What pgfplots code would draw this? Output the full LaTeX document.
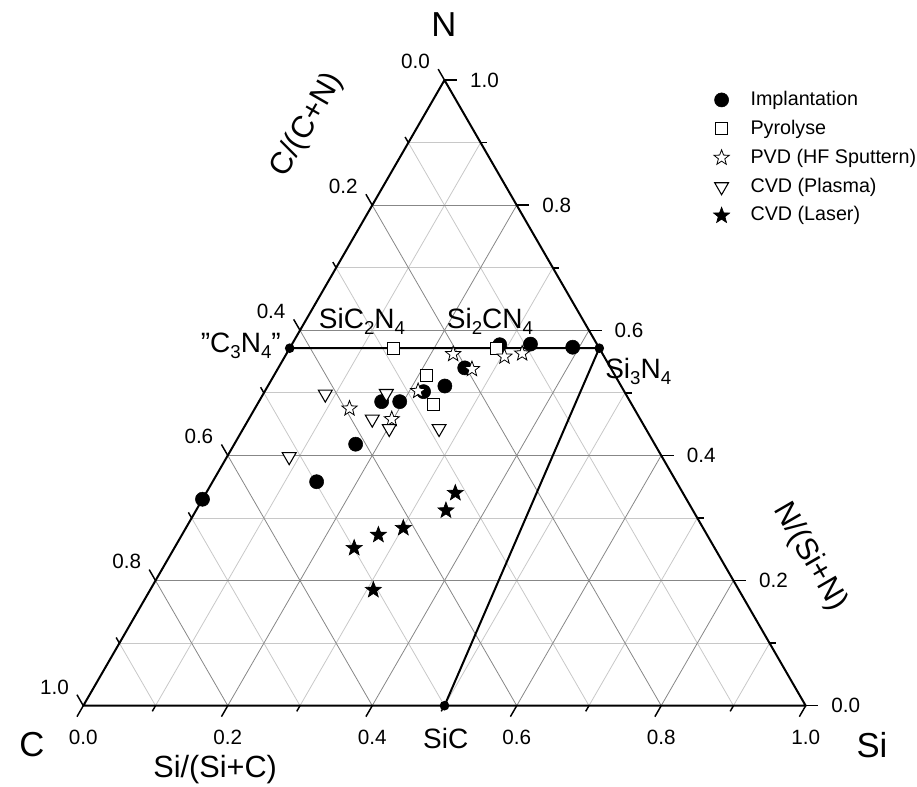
\documentclass[border=0pt]{standalone}
\usepackage{fontspec}
\setmainfont{Liberation Sans}
\usepackage{pgfplots}
\pgfplotsset{compat=1.18}
\usepackage{pgfplotstable}

% five-pointed star outline mark (fill + stroke)
\pgfdeclareplotmark{fstar}{%
  \pgfpathmoveto{\pgfpointpolar{90}{\pgfplotmarksize}}%
  \pgfpathlineto{\pgfpointpolar{126}{0.42*\pgfplotmarksize}}%
  \pgfpathlineto{\pgfpointpolar{162}{\pgfplotmarksize}}%
  \pgfpathlineto{\pgfpointpolar{198}{0.42*\pgfplotmarksize}}%
  \pgfpathlineto{\pgfpointpolar{234}{\pgfplotmarksize}}%
  \pgfpathlineto{\pgfpointpolar{270}{0.42*\pgfplotmarksize}}%
  \pgfpathlineto{\pgfpointpolar{306}{\pgfplotmarksize}}%
  \pgfpathlineto{\pgfpointpolar{342}{0.42*\pgfplotmarksize}}%
  \pgfpathlineto{\pgfpointpolar{18}{\pgfplotmarksize}}%
  \pgfpathlineto{\pgfpointpolar{54}{0.42*\pgfplotmarksize}}%
  \pgfpathclose
  \pgfusepathqfillstroke
}

% ternary compositions: si = Si fraction, n = N fraction (C = 1 - si - n)
\pgfplotstableread{
si n
0.288 0.577
0.330 0.578
0.391 0.573
0.258 0.540
0.245 0.511
0.220 0.502
0.195 0.486
0.170 0.486
0.168 0.418
0.144 0.358
0.000 0.330
}\implant
\pgfplotstableread{
si n
0.144 0.571
0.287 0.571
0.211 0.528
0.244 0.481
}\pyro
\pgfplotstableread{
si n
0.231 0.562
0.304 0.558
0.326 0.563
0.269 0.538
0.212 0.503
0.131 0.475
0.198 0.458
}\pvd
\pgfplotstableread{
si n
0.086 0.498
0.170 0.499
0.171 0.458
0.202 0.443
0.271 0.443
0.086 0.398
}\plasma
\pgfplotstableread{
si n
0.345 0.340
0.346 0.312
0.301 0.284
0.272 0.273
0.249 0.252
0.309 0.185
}\laser
% phase boundaries: "C3N4" - Si3N4 - SiC
\pgfplotstableread{
si n
0.000 0.571429
0.428571 0.571429
0.5 0
}\phase

\definecolor{glight}{RGB}{200,200,200}
\definecolor{gdark}{RGB}{135,135,135}
\newcommand{\ticksz}{\fontsize{15.5}{18}\selectfont}
\newcommand{\legsz}{\fontsize{14.8}{17}\selectfont}
\newcommand{\cmpsz}{\fontsize{21}{24}\selectfont}
\newcommand{\cornsz}{\fontsize{26}{30}\selectfont}
\newcommand{\ttlsz}{\fontsize{23}{27}\selectfont}
\newcommand{\sub}[1]{\raisebox{-0.45ex}{\fontsize{14}{16}\selectfont #1}}

\begin{document}
\begin{tikzpicture}
\begin{axis}[
  x=541.8pt, y=541.8pt,
  xmin=-0.1153, xmax=1.1541, ymin=-0.1125, ymax=0.9769,
  axis lines=none, clip=false,
  legend cell align=left,
  legend style={draw=none, fill=none, inner sep=0pt,
    at={(axis cs:0.8671,0.8537)}, anchor=north west,
    font=\legsz, row sep=5.7pt,
    nodes={inner sep=1pt, text height=11pt, text depth=3pt}},
  legend image code/.code={%
    \path (0cm,0cm) (1.02cm,0cm);
    \draw[mark repeat=2,mark phase=2,#1] plot coordinates {(0cm,0cm) (0.3cm,0cm) (0.6cm,0cm)};},
]
\coordinate (BL) at (axis cs:-0.1153,-0.1125);
\coordinate (TR) at (axis cs:1.1541,0.9769);

% grid
\pgfplotsinvokeforeach{0.1,0.3,0.5,0.7,0.9}{
  \draw[glight, line width=0.6pt] (axis cs:{#1/2},{0.8660254*#1}) -- (axis cs:{1-#1/2},{0.8660254*#1});
  \draw[glight, line width=0.6pt] (axis cs:#1,0) -- (axis cs:{(1+#1)/2},{0.8660254*(1-#1)});
  \draw[glight, line width=0.6pt] (axis cs:{1-#1},0) -- (axis cs:{(1-#1)/2},{0.8660254*(1-#1)});
  \draw[line width=1.1pt] (axis cs:#1,0) -- ++(240:4.9pt);
  \draw[line width=1.1pt] (axis cs:{(1-#1)/2},{0.8660254*(1-#1)}) -- ++(120:4.9pt);
  \draw[line width=1.1pt] (axis cs:{1-#1/2},{0.8660254*#1}) -- ++(0:4.9pt);
}
\pgfplotsinvokeforeach{0.2,0.4,0.6,0.8}{
  \draw[gdark, line width=0.6pt] (axis cs:{#1/2},{0.8660254*#1}) -- (axis cs:{1-#1/2},{0.8660254*#1});
  \draw[gdark, line width=0.6pt] (axis cs:#1,0) -- (axis cs:{(1+#1)/2},{0.8660254*(1-#1)});
  \draw[gdark, line width=0.6pt] (axis cs:{1-#1},0) -- (axis cs:{(1-#1)/2},{0.8660254*(1-#1)});
}
\pgfplotsinvokeforeach{0.0,0.2,0.4,0.6,0.8,1.0}{
  \draw[line width=1.1pt] (axis cs:#1,0) -- ++(240:9.5pt);
  \draw[line width=1.1pt] (axis cs:{(1-#1)/2},{0.8660254*(1-#1)}) -- ++(120:9.5pt);
  \draw[line width=1.1pt] (axis cs:{1-#1/2},{0.8660254*#1}) -- ++(0:9.5pt);
  \node[font=\ticksz] at (axis cs:#1,-0.0433) {#1};
  \node[font=\ticksz] at (axis cs:{(1-#1)/2-0.040},{0.8660254*(1-#1)+0.026}) {#1};
  \node[font=\ticksz, anchor=west] at (axis cs:{1-#1/2+0.029},{0.8660254*#1}) {#1};
}
% frame
\draw[line width=1.5pt, line join=round] (axis cs:0,0) -- (axis cs:1,0) -- (axis cs:0.5,0.8660254) -- cycle;

\addplot[black, line width=1.5pt, mark=*, mark size=2.8pt, forget plot]
  table[x expr=\thisrow{si}+0.5*\thisrow{n}, y expr=0.8660254*\thisrow{n}] {\phase};

\addplot[only marks, black, mark=*, mark size=5.3pt]
  table[x expr=\thisrow{si}+0.5*\thisrow{n}, y expr=0.8660254*\thisrow{n}] {\implant};
\addlegendentry{Implantation}
\addplot[only marks, black, mark=square*, mark size=4.5pt, mark options={fill=white, line width=0.8pt}]
  table[x expr=\thisrow{si}+0.5*\thisrow{n}, y expr=0.8660254*\thisrow{n}] {\pyro};
\addlegendentry{Pyrolyse}
\addplot[only marks, black, mark=fstar, mark size=6pt, mark options={fill=white, line width=0.6pt}]
  table[x expr=\thisrow{si}+0.5*\thisrow{n}, y expr=0.8660254*\thisrow{n}] {\pvd};
\addlegendentry{PVD (HF Sputtern)}
\addplot[only marks, black, mark=triangle*, mark size=6pt, mark options={fill=white, rotate=180, line width=0.8pt}]
  table[x expr=\thisrow{si}+0.5*\thisrow{n}, y expr=0.8660254*\thisrow{n}] {\plasma};
\addlegendentry{CVD (Plasma)}
\addplot[only marks, black, mark=fstar, mark size=6.3pt, mark options={fill=black, line width=0.5pt}]
  table[x expr=\thisrow{si}+0.5*\thisrow{n}, y expr=0.8660254*\thisrow{n}] {\laser};
\addlegendentry{CVD (Laser)}

% labels
\node[font=\cornsz] at (axis cs:0.4993,0.9423) {N};
\node[font=\cornsz] at (axis cs:-0.0710,-0.0544) {C};
\node[font=\cornsz] at (axis cs:1.0918,-0.0544) {Si};
\node[font=\ttlsz] at (axis cs:0.1826,-0.0890) {Si/(Si+C)};
\node[font=\ttlsz, rotate=60] at (axis cs:0.3097,0.8038) {C/(C+N)};
\node[font=\ttlsz, rotate=-60] at (axis cs:1.0060,0.2058) {N/(Si+N)};
\node[font=\cmpsz, anchor=base east, inner sep=0pt] at (axis cs:0.2737,0.4896) {{\char34}C\sub{3}N\sub{4}{\char34}};
\node[font=\cmpsz, anchor=base, inner sep=0pt] at (axis cs:0.3858,0.5228) {SiC\sub{2}N\sub{4}};
\node[font=\cmpsz, anchor=base, inner sep=0pt] at (axis cs:0.5630,0.5228) {Si\sub{2}CN\sub{4}};
\node[font=\cmpsz, anchor=base west, inner sep=0pt] at (axis cs:0.7222,0.4536) {Si\sub{3}N\sub{4}};
\node[font=\cmpsz, anchor=base, inner sep=0pt] at (axis cs:0.5017,-0.0586) {SiC};
\end{axis}
\pgfresetboundingbox
\useasboundingbox (BL) rectangle (TR);
\end{tikzpicture}
\end{document}
